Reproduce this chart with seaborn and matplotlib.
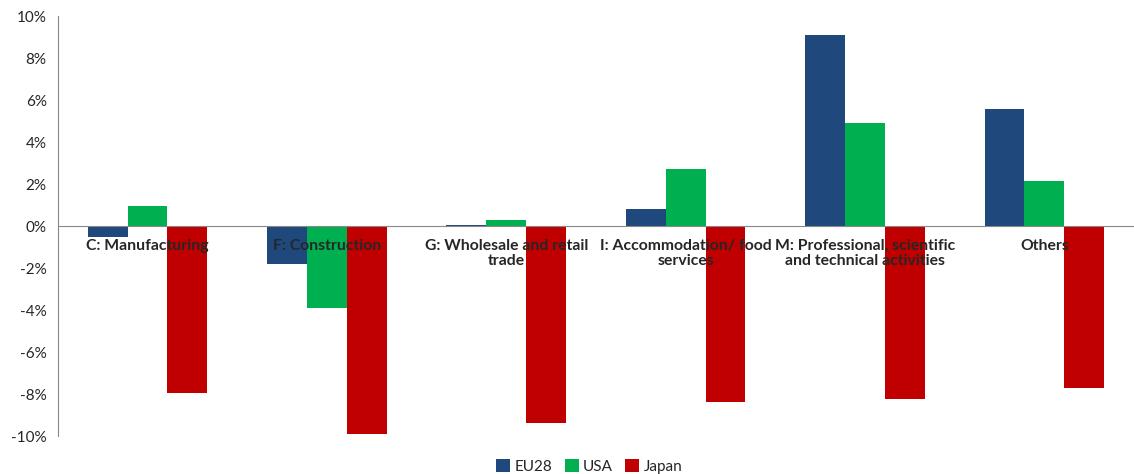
import numpy as np
import pandas as pd
import matplotlib
matplotlib.use('Agg')
import matplotlib.pyplot as plt
import seaborn as sns
from matplotlib.ticker import FuncFormatter

# 数据
categories = ['C: Manufacturing', 'F: Construction', 'G: Wholesale and retail\ntrade',
              'I: Accommodation/ food\nservices', 'M: Professional, scientific\nand technical activities',
              'Others']
series = ['EU28', 'USA', 'Japan']
eu28 = [-0.5, -1.8, 0.05, 0.8, 9.1, 5.6]
usa = [0.95, -3.9, 0.3, 2.7, 4.9, 2.15]
japan = [-7.95, -9.9, -9.4, -8.4, -8.25, -7.7]
colors = ['#1F497D', '#00B050', '#C00000']

df = pd.DataFrame({
    'category': categories * 3,
    'region': sum([[s] * len(categories) for s in series], []),
    'value': eu28 + usa + japan,
})

sns.set_style('white')
plt.rcParams['font.family'] = ['Lato', 'DejaVu Sans']

fig = plt.figure(figsize=(11.34, 4.74), dpi=100)
ax = fig.add_axes([0.051, 0.080, 0.949, 0.886])

sns.barplot(data=df, x='category', y='value', hue='region', hue_order=series,
            palette=colors, width=0.667, saturation=1, ax=ax, linewidth=0)
for p in ax.patches:
    p.set_zorder(1)

ax.set_ylim(-10, 10)
ax.set_xlim(-0.5, len(categories) - 0.5)
ax.set_yticks(np.arange(-10, 11, 2))
ax.yaxis.set_major_formatter(FuncFormatter(lambda v, p: '%d%%' % v))
ax.tick_params(axis='y', length=0, labelsize=11, pad=8)

# x轴放在0位置, 标签画在柱子上面
ax.spines['bottom'].set_position(('data', 0))
ax.spines['bottom'].set_color('#888888')
ax.spines['bottom'].set_zorder(3)
ax.spines['left'].set_color('#888888')
ax.spines['top'].set_visible(False)
ax.spines['right'].set_visible(False)
ax.xaxis.set_zorder(5)
ax.set_xticks(np.arange(len(categories)))
ax.set_xticklabels(categories, fontweight='bold', fontsize=11.3, linespacing=1.1)
ax.set_xticks(np.arange(len(categories)) - 0.5, minor=True)
ax.tick_params(axis='x', which='major', length=0, pad=9)
ax.tick_params(axis='x', which='minor', length=4, color='#888888', direction='out')
ax.set_xlabel('')
ax.set_ylabel('')

ax.legend(loc='upper center', bbox_to_anchor=(0.494, -0.022), ncol=3, frameon=False,
          fontsize=11, handlelength=0.9, handleheight=0.9, handletextpad=0.3, columnspacing=0.8)

fig.savefig('out.png', dpi=100)
